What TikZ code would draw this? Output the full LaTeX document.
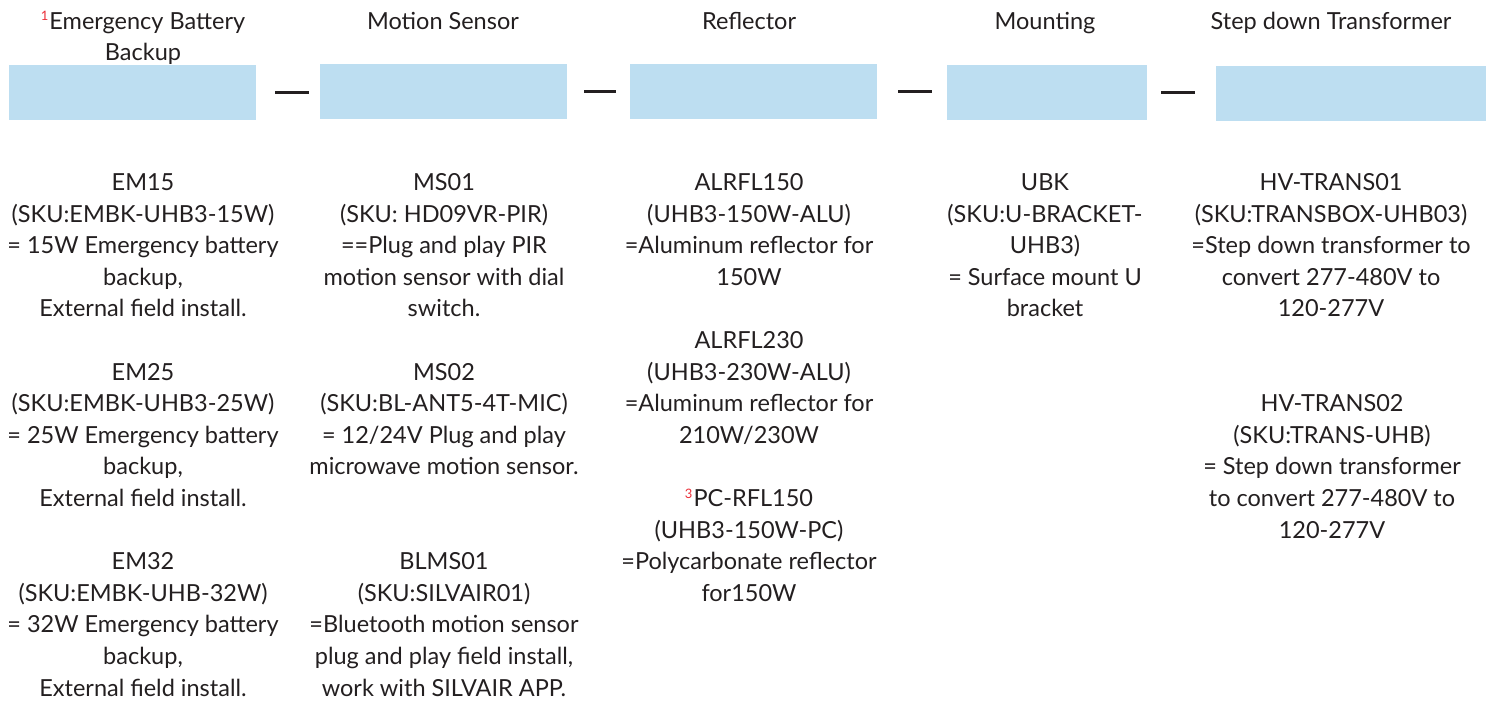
\documentclass[tikz,border=0pt]{standalone}
\usepackage{fontspec}
\setmainfont{Lato}
\definecolor{boxblue}{RGB}{189,222,241}
\definecolor{txt}{RGB}{35,31,32}
\definecolor{supred}{RGB}{235,45,55}
\newcommand{\fl}{\rule{0pt}{22pt}}
\newcommand{\supmark}[1]{\textcolor{supred}{\raisebox{8.3pt}{\fontsize{13}{13}\selectfont #1}}\hspace{1pt}}
\begin{document}
\begin{tikzpicture}[x=1pt,y=-1pt,
  lbl/.style={inner sep=0pt, outer sep=0pt, align=center, anchor=north, text=txt,
    font=\fontsize{23.5}{31.6}\selectfont},
  bbox/.style={fill=boxblue, draw=none, inner sep=0pt, outer sep=0pt, anchor=north west},
  link/.style={line width=3pt, draw=txt}]
\useasboundingbox (0,0) rectangle (1491,705);
% boxes
\node[bbox, minimum width=247pt, minimum height=55pt] (b1) at (9,65) {};
\node[bbox, minimum width=247pt, minimum height=55pt] (b2) at (320,64) {};
\node[bbox, minimum width=247pt, minimum height=55pt] (b3) at (630,64) {};
\node[bbox, minimum width=200pt, minimum height=55pt] (b4) at (947,65) {};
\node[bbox, minimum width=270pt, minimum height=55pt] (b5) at (1216,66) {};
% dashes between boxes
\draw[link, shorten <=19pt, shorten >=11pt] (b1.east) -- (b1.east -| b2.west);
\draw[link, shorten <=17pt, shorten >=14pt] (b2.east) -- (b2.east -| b3.west);
\draw[link, shorten <=21pt, shorten >=15pt] (b3.east) -- (b3.east -| b4.west);
\draw[link, shorten <=14pt, shorten >=21pt] (b4.east) -- (b4.east -| b5.west);
% titles
\node[lbl] (t1) at (143,7) {\fl\supmark{1}Emergency Battery\\Backup};
\node[lbl] (t2) at (443,7) {\fl Motion Sensor};
\node[lbl] (t3) at (749,7) {\fl Reflector};
\node[lbl] (t4) at (1045,7) {\fl Mounting};
\node[lbl] (t5) at (1331,7) {\fl Step down Transformer};
% column 1
\node[lbl] (em15) at (143,168.5) {\fl EM15\\(SKU:EMBK-UHB3-15W)\\= 15W Emergency battery\\backup,\\External field install.};
\node[lbl] (em25) at (143,358.1) {\fl EM25\\(SKU:EMBK-UHB3-25W)\\= 25W Emergency battery\\backup,\\External field install.};
\node[lbl] (em32) at (143,547.7) {\fl EM32\\(SKU:EMBK-UHB-32W)\\= 32W Emergency battery\\backup,\\External field install.};
% column 2
\node[lbl] (ms01) at (444,168.5) {\fl MS01\\(SKU: HD09VR-PIR)\\==Plug and play PIR\\motion sensor with dial\\switch.};
\node[lbl] (ms02) at (444,358.1) {\fl MS02\\(SKU:BL-ANT5-4T-MIC)\\= 12/24V Plug and play\\microwave motion sensor.};
\node[lbl] (blms) at (444,547.7) {\fl BLMS01\\(SKU:SILVAIR01)\\=Bluetooth motion sensor\\plug and play field install,\\work with SILVAIR APP.};
% column 3
\node[lbl] (al150) at (749,168.5) {\fl ALRFL150\\(UHB3-150W-ALU)\\=Aluminum reflector for\\150W};
\node[lbl] (al230) at (749,326.5) {\fl ALRFL230\\(UHB3-230W-ALU)\\=Aluminum reflector for\\210W/230W};
\node[lbl] (pc150) at (749,484.5) {\fl\supmark{3}PC-RFL150\\(UHB3-150W-PC)\\=Polycarbonate reflector\\for150W};
% column 4
\node[lbl] (ubk) at (1045,168.5) {\fl UBK\\(SKU:U-BRACKET-\\UHB3)\\= Surface mount U\\bracket};
% column 5
\node[lbl] (hv1) at (1331,168.5) {\fl HV-TRANS01\\(SKU:TRANSBOX-UHB03)\\=Step down transformer to\\convert 277-480V to\\120-277V};
\node[lbl] (hv2) at (1332,389.7) {\fl HV-TRANS02\\(SKU:TRANS-UHB)\\= Step down transformer\\to convert 277-480V to\\120-277V};
\end{tikzpicture}
\end{document}
